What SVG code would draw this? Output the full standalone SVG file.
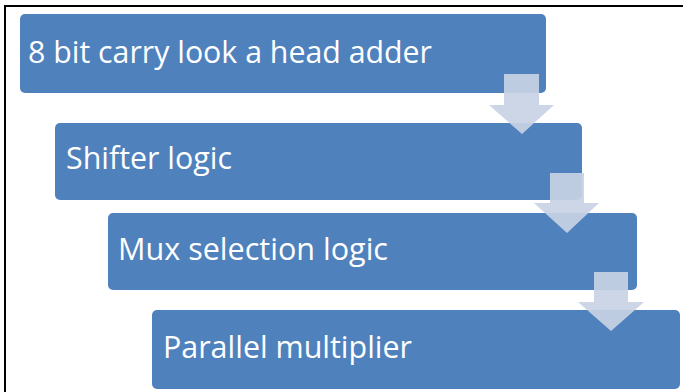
<svg xmlns="http://www.w3.org/2000/svg" width="683" height="392" viewBox="0 0 683 392">
<style>
.box{fill:#4F81BD;}
.lbl{fill:#FFFFFF;font-family:"Open Sans","Noto Sans","Liberation Sans",sans-serif;font-size:31px;}
.arr{fill:#C8D2E5;fill-opacity:0.92;}
</style>
<rect x="0" y="0" width="683" height="392" fill="#FFFFFF"/>
<rect x="5" y="6" width="700" height="400" fill="none" stroke="#000000" stroke-width="2"/>
<g id="node1"><rect class="box" x="20" y="14" width="526" height="79" rx="5"/><text class="lbl" x="28" y="63" textLength="404" lengthAdjust="spacingAndGlyphs">8 bit carry look a head adder</text></g>
<g id="node2"><rect class="box" x="55" y="123" width="527" height="77" rx="5"/><text class="lbl" x="66" y="169" textLength="166" lengthAdjust="spacingAndGlyphs">Shifter logic</text></g>
<g id="node3"><rect class="box" x="108" y="213" width="529" height="77" rx="5"/><text class="lbl" x="118" y="260" textLength="270" lengthAdjust="spacingAndGlyphs">Mux selection logic</text></g>
<g id="node4"><rect class="box" x="152" y="310" width="528" height="79" rx="5"/><text class="lbl" x="163" y="358" textLength="249" lengthAdjust="spacingAndGlyphs">Parallel multiplier</text></g>
<g id="connectors">
<polygon class="arr" points="504,74 539,74 539,105 554,105 522,134 489,105 504,105"/>
<polygon class="arr" points="550,173 584,173 584,203 599,203 567,233 534,203 550,203"/>
<polygon class="arr" points="594,272 628,272 628,302 644,302 611,331 578,302 594,302"/>
</g>
</svg>
